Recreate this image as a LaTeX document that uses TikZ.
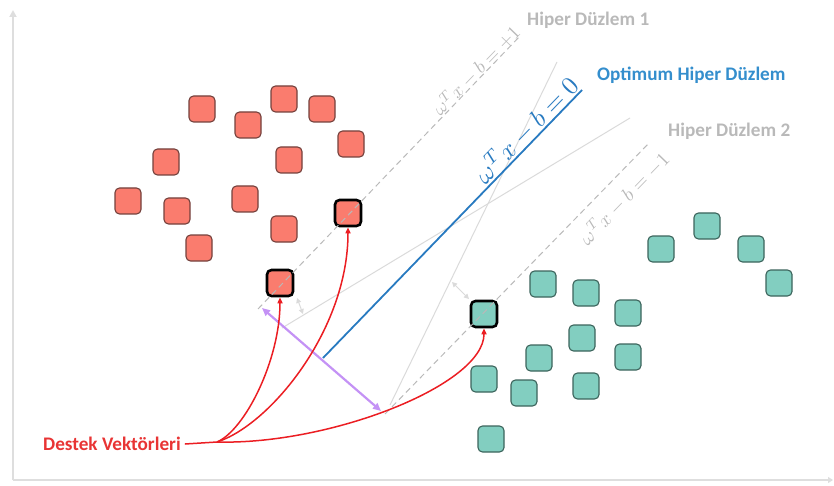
\documentclass[tikz,border=0pt]{standalone}
\usepackage{graphicx}
\usepackage{fontspec}
\setmainfont{Carlito}
\usetikzlibrary{arrows.meta}
\definecolor{redfill}{RGB}{250,124,110}
\definecolor{rededge}{RGB}{115,65,60}
\definecolor{tealfill}{RGB}{130,206,192}
\definecolor{tealedge}{RGB}{60,100,92}
\definecolor{axisgray}{RGB}{222,222,222}
\definecolor{hypgray}{RGB}{185,185,185}
\definecolor{thingray}{RGB}{218,218,218}
\definecolor{optblue}{RGB}{40,122,192}
\definecolor{labblue}{RGB}{52,142,205}
\definecolor{svred}{RGB}{235,30,35}
\definecolor{labred}{RGB}{232,52,52}
\definecolor{margin}{RGB}{196,146,245}
\tikzset{
  sq/.style={draw, rounded corners=4.5pt, minimum size=26pt, inner sep=0pt, line width=1.1pt},
  redsq/.style={sq, fill=redfill, draw=rededge},
  tealsq/.style={sq, fill=tealfill, draw=tealedge},
  svbox/.style={line width=2.6pt, draw=black},
  caption/.style={font=\bfseries\fontsize{19.2}{21}\selectfont, inner sep=0pt},
  eqlab/.style={text=hypgray, inner sep=0pt, rotate=46},
  hyper/.style={draw=hypgray, line width=1pt, dash pattern=on 6pt off 4pt},
  thin line/.style={draw=thingray, line width=1pt},
  pointer/.style={draw=svred, line width=1.5pt, -{Triangle[length=6pt,width=5pt]}},
  gap/.style={draw=thingray, line width=1pt, {Triangle[length=5pt,width=5pt]}-{Triangle[length=5pt,width=5pt]}}
}
\begin{document}
\begin{tikzpicture}[x=1pt,y=-1pt]
\useasboundingbox (0,0) rectangle (834,486);

% axes
\coordinate (o) at (13,480);
\coordinate (ytop) at (13,10);
\coordinate (xend) at (833,480);
\draw[draw=axisgray, line width=2pt, -{Triangle[length=7pt,width=7pt]}] (o) -- (ytop);
\draw[draw=axisgray, line width=2pt, -{Triangle[length=5pt,width=6pt]}] (o) -- (xend);

% hyperplane end points
\coordinate (h1a) at (258,309);
\coordinate (h1b) at (521,35);
\coordinate (h2a) at (385,414);
\coordinate (h2b) at (650,142);
\coordinate (h0a) at (323,358);
\coordinate (h0b) at (582,90);
\coordinate (la) at (390,405);
\coordinate (lb) at (557,62);
\coordinate (ma) at (282,328);
\coordinate (mb) at (630,118);

% other separating lines
\draw[thin line] (la) -- (lb);
\draw[thin line] (ma) -- (mb);

% margin hyperplanes
\draw[hyper] (h1a) -- (h1b);
\draw[hyper] (h2a) -- (h2b);

% optimum hyperplane
\draw[draw=optblue, line width=1.8pt] (h0a) -- (h0b);

% red class
\node[redsq] (r1) at (202,109) {};
\node[redsq] (r2) at (248,125) {};
\node[redsq] (r3) at (284,99) {};
\node[redsq] (r4) at (322,109) {};
\node[redsq] (r5) at (351,144) {};
\node[redsq] (r6) at (289,160) {};
\node[redsq] (r7) at (166,162) {};
\node[redsq] (r8) at (128,201) {};
\node[redsq] (r9) at (177,211) {};
\node[redsq] (r10) at (245,199) {};
\node[redsq] (r11) at (284,229) {};
\node[redsq] (r12) at (199,248) {};
\node[redsq, svbox] (rs1) at (348,213) {};
\node[redsq, svbox] (rs2) at (280,283) {};

% teal class
\node[tealsq] (t1) at (661,249) {};
\node[tealsq] (t2) at (707,226) {};
\node[tealsq] (t3) at (751,249) {};
\node[tealsq] (t4) at (779,283) {};
\node[tealsq] (t5) at (543,284) {};
\node[tealsq] (t6) at (586,293) {};
\node[tealsq] (t7) at (628,313) {};
\node[tealsq] (t8) at (582,338) {};
\node[tealsq] (t9) at (539,358) {};
\node[tealsq] (t10) at (628,357) {};
\node[tealsq] (t11) at (484,379) {};
\node[tealsq] (t12) at (524,393) {};
\node[tealsq] (t13) at (586,386) {};
\node[tealsq] (t14) at (491,439) {};
\node[tealsq, svbox] (ts1) at (484,314) {};

% dashed line through the support vectors, redrawn on top
\begin{scope}
\clip (rs1.south west) rectangle (rs1.north east);
\draw[hyper] (h1a) -- (h1b);
\end{scope}
\begin{scope}
\clip (rs2.south west) rectangle (rs2.north east);
\draw[hyper] (h1a) -- (h1b);
\end{scope}
\begin{scope}
\clip (ts1.south west) rectangle (ts1.north east);
\draw[hyper] (h2a) -- (h2b);
\end{scope}

% margin gaps
\coordinate (g1a) at (297,298);
\coordinate (g1b) at (303,314);
\coordinate (g2a) at (452,282);
\coordinate (g2b) at (469,299);
\draw[gap] (g1a) -- (g1b);
\draw[gap] (g2a) -- (g2b);

% margin width
\coordinate (wa) at (262,308);
\coordinate (wb) at (381,411);
\draw[draw=margin, line width=2.2pt, {Triangle[length=8pt,width=7pt]}-{Triangle[length=8pt,width=7pt]}] (wa) -- (wb);

% equation labels
\node[eqlab, anchor=base] (e1) at (481,75) {\scalebox{1.9}{$\omega^T x - b = +1$}};
\node[eqlab] (e2) at (624,198) {\scalebox{1.95}{$\omega^T x - b = -1$}};
\node[eqlab, anchor=base, text=optblue] (e0) at (533,136) {\scalebox{2.55}{$\omega^T x - b = 0$}};

% captions
\node[caption, text=hypgray, anchor=west] (c1) at (527,20) {Hiper Düzlem 1};
\node[caption, text=labblue, anchor=west] (c0) at (597,75) {Optimum Hiper Düzlem};
\node[caption, text=hypgray, anchor=west] (c2) at (668,131) {Hiper Düzlem 2};
\node[caption, text=labred, anchor=west] (sv) at (43,444) {Destek Vektörleri};

% pointers to the support vectors
\coordinate (fan) at (217,442);
\draw[draw=svred, line width=1.5pt] (sv.east) ++(4,0) -- (fan);
\draw[pointer] (fan) .. controls (245,430) and (280,360) .. (rs2.south);
\draw[pointer] (fan) .. controls (270,425) and (348,330) .. (rs1.south);
\draw[pointer] (fan) .. controls (330,445) and (484,385) .. (ts1.south);
\end{tikzpicture}
\end{document}
